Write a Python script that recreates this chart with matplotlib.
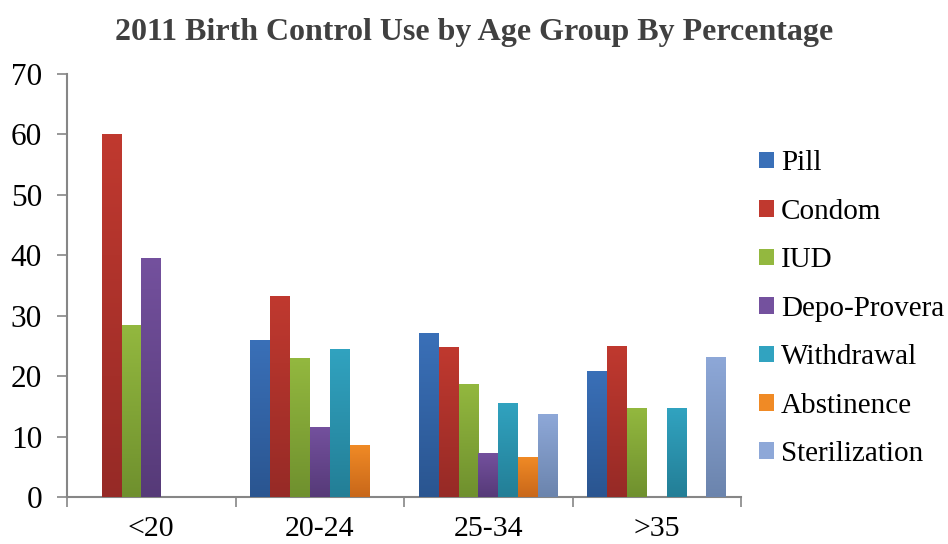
import matplotlib

matplotlib.use("Agg")
import matplotlib.pyplot as plt
import numpy as np
from matplotlib.colors import LinearSegmentedColormap
from matplotlib.patches import Patch

TITLE = "2011 Birth Control Use by Age Group By Percentage"
AGE_GROUPS = ["<20", "20-24", "25-34", ">35"]
METHODS = ["Pill", "Condom", "IUD", "Depo-Provera", "Withdrawal", "Abstinence", "Sterilization"]

# percentage per age group, one list per method (0 = not shown)
PILL = [0, 26.0, 27.1, 20.9]
CONDOM = [60.0, 33.2, 24.9, 25.0]
IUD = [28.5, 23.0, 18.7, 14.7]
DEPO_PROVERA = [39.6, 11.6, 7.3, 0]
WITHDRAWAL = [0, 24.5, 15.6, 14.7]
ABSTINENCE = [0, 8.6, 6.6, 0]
STERILIZATION = [0, 0, 13.7, 23.2]

SERIES = [PILL, CONDOM, IUD, DEPO_PROVERA, WITHDRAWAL, ABSTINENCE, STERILIZATION]

# (top, bottom) colours for the Excel-like vertical gradient
COLORS = [
    ("#3a70b8", "#2a5590"),
    ("#c0392f", "#962a26"),
    ("#93b83f", "#6f902e"),
    ("#74519e", "#563a78"),
    ("#31a3c0", "#237e96"),
    ("#f08a25", "#c8671a"),
    ("#8ea8d8", "#6b84ad"),
]

plt.rcParams["font.family"] = ["Liberation Serif", "DejaVu Serif"]

fig = plt.figure(figsize=(9.48, 5.44), dpi=100)
ax = fig.add_axes([0.0707, 0.0864, 0.711, 0.7776])

n = len(METHODS)
width = 1.0 / (n + 1.5)
x = np.arange(len(AGE_GROUPS))
gradient = np.linspace(0, 1, 256).reshape(-1, 1)

handles = []
for i, (name, values, (top, bottom)) in enumerate(zip(METHODS, SERIES, COLORS)):
    offset = (i - (n - 1) / 2) * width
    bars = ax.bar(x + offset, values, width, color=bottom, edgecolor="none", zorder=2)
    cmap = LinearSegmentedColormap.from_list(name, [bottom, top])
    for bar in bars:
        h = bar.get_height()
        if h <= 0:
            continue
        x0 = bar.get_x()
        img = ax.imshow(
            gradient,
            cmap=cmap,
            extent=(x0, x0 + bar.get_width(), 0, h),
            origin="lower",
            aspect="auto",
            zorder=3,
        )
        img.set_clip_path(bar)
    handles.append(Patch(facecolor=top, edgecolor="none", label=name))

ax.set_xlim(-0.5, len(AGE_GROUPS) - 0.5)
ax.set_ylim(0, 70)
ax.set_yticks(np.arange(0, 71, 10))
ax.set_xticks(x)
ax.set_xticklabels(AGE_GROUPS)
ax.set_xticks(np.arange(-0.5, len(AGE_GROUPS), 1.0), minor=True)
ax.tick_params(axis="x", which="major", length=0, pad=14, labelsize=21.5)
ax.tick_params(axis="x", which="minor", length=7, color="#868686", width=1.2)
ax.tick_params(axis="y", length=7, color="#868686", width=1.2, labelsize=22.5, pad=11)

for side in ("top", "right"):
    ax.spines[side].set_visible(False)
for side in ("left", "bottom"):
    ax.spines[side].set_color("#868686")
    ax.spines[side].set_linewidth(1.5)

ax.legend(
    handles=handles,
    loc="center left",
    bbox_to_anchor=(1.0095, 0.445),
    frameon=False,
    fontsize=21,
    handlelength=0.5,
    handleheight=0.5,
    handletextpad=0.25,
    labelspacing=0.77,
    borderaxespad=0,
)

fig.text(0.5, 0.94, TITLE, ha="center", va="center", fontsize=23, fontweight="bold", color="#404040")

fig.savefig("out.png", dpi=100)
